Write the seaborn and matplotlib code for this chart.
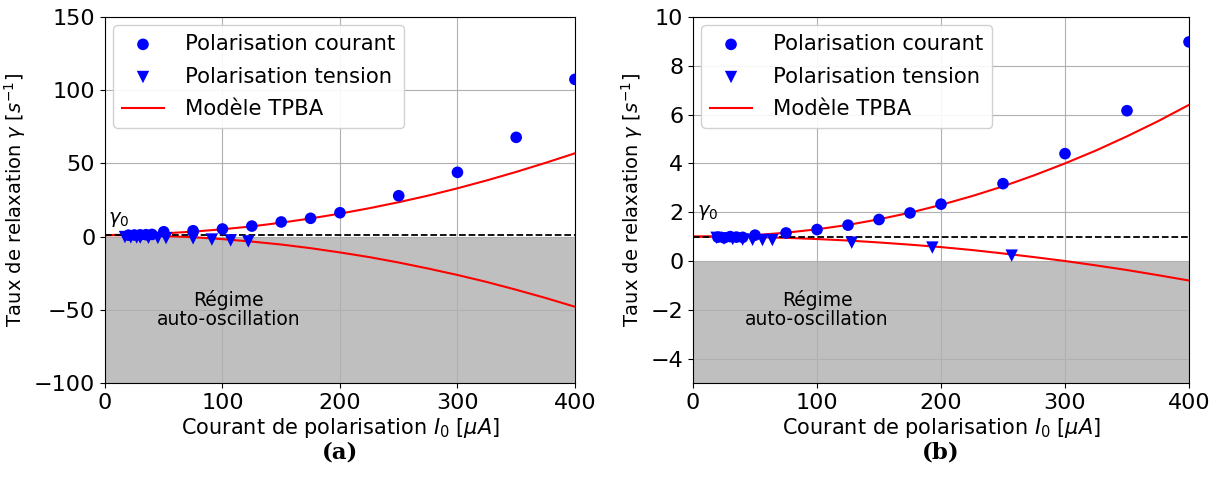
import numpy as np
import pandas as pd
import seaborn as sns
import matplotlib.pyplot as plt

# -----------------------------
# Data
# -----------------------------

gamma0 = 1.0

# (a) left panel
a_cur_x = [20, 25, 30, 35, 40, 50, 75, 100, 125, 150, 175, 200, 250, 300, 350, 400]
a_cur_y = [1.0, 1.1, 1.2, 1.3, 1.5, 3.3, 4.0, 5.2, 7.2, 10.0, 12.5, 16.3, 27.9, 43.9, 67.8, 107.4]
a_ten_x = [17, 22, 27, 30, 37, 45, 52, 75, 91, 107, 122]
a_ten_y = [-0.3, -0.5, -0.6, -0.7, -0.8, -0.9, -1.0, -1.2, -2.0, -2.6, -3.3]

# (b) right panel
b_cur_x = [20, 25, 30, 35, 40, 50, 75, 100, 125, 150, 175, 200, 250, 300, 350, 400]
b_cur_y = [0.98, 0.95, 1.0, 0.98, 0.97, 1.06, 1.15, 1.29, 1.47, 1.70, 1.97, 2.33, 3.17, 4.40, 6.16, 8.98]
b_ten_x = [19, 25, 32, 40, 48, 56, 64, 128, 193, 257]
b_ten_y = [0.95, 0.92, 0.90, 0.88, 0.87, 0.86, 0.86, 0.75, 0.55, 0.22]

# TPBA model curves, read every 25 uA
model_x = [0, 25, 50, 75, 100, 125, 150, 175, 200, 225, 250, 275, 300, 325, 350, 375, 400]
a_model_up = [1.0, 1.4, 2.2, 3.4, 5.0, 7.0, 9.5, 12.4, 15.7, 19.4, 23.5, 28.0, 33.0, 38.4, 44.2, 50.4, 56.9]
a_model_dn = [1.0, 0.9, 0.4, -0.4, -1.7, -3.4, -5.4, -7.9, -10.8, -14.0, -17.7, -21.8, -26.2, -31.0, -36.3, -41.9, -47.9]
b_model_up = [1.00, 1.01, 1.06, 1.16, 1.30, 1.48, 1.71, 1.98, 2.30, 2.66, 3.06, 3.51, 4.00, 4.53, 5.11, 5.73, 6.40]
b_model_dn = [1.00, 1.00, 0.98, 0.95, 0.90, 0.84, 0.76, 0.67, 0.57, 0.45, 0.31, 0.16, 0.00, -0.18, -0.37, -0.58, -0.80]

panels = [
    dict(cur_x=a_cur_x, cur_y=a_cur_y, ten_x=a_ten_x, ten_y=a_ten_y,
         up=a_model_up, dn=a_model_dn, ylim=(-100, 150), yticks=[-100, -50, 0, 50, 100, 150],
         g0_y=12, reg_x=105, reg_y=-50, label="(a)"),
    dict(cur_x=b_cur_x, cur_y=b_cur_y, ten_x=b_ten_x, ten_y=b_ten_y,
         up=b_model_up, dn=b_model_dn, ylim=(-5, 10), yticks=[-4, -2, 0, 2, 4, 6, 8, 10],
         g0_y=2.0, reg_x=100, reg_y=-2.0, label="(b)"),
]

# -----------------------------
# Plot
# -----------------------------

fig = plt.figure(figsize=(12.15, 4.93), dpi=100)
rects = [[0.0864, 0.2231, 0.3868, 0.7424], [0.5704, 0.2231, 0.4082, 0.7424]]

for p, r in zip(panels, rects):
    ax = fig.add_axes(r)
    ax.axhspan(p["ylim"][0], 0, color="#bfbfbf", lw=0, zorder=1)
    ax.grid(True, color="#b0b0b0", lw=0.8)

    sns.scatterplot(x=p["cur_x"], y=p["cur_y"], ax=ax, color="blue", marker="o",
                    s=70, edgecolor="none", label="Polarisation courant", zorder=3)
    sns.scatterplot(x=p["ten_x"], y=p["ten_y"], ax=ax, color="blue", marker="v",
                    s=80, edgecolor="none", label="Polarisation tension", zorder=3)
    sns.lineplot(x=model_x, y=p["up"], ax=ax, color="red", lw=1.5, label="Modèle TPBA", zorder=2)
    sns.lineplot(x=model_x, y=p["dn"], ax=ax, color="red", lw=1.5, zorder=2)
    ax.axhline(gamma0, color="black", ls="--", lw=1.3, zorder=2.5)

    ax.text(12, p["g0_y"], r"$\gamma_0$", fontsize=14, ha="center", va="center")
    ax.text(p["reg_x"], p["reg_y"], "Régime\nauto-oscillation", fontsize=13.5,
            ha="center", va="center", linespacing=1.0)

    ax.set_xlim(0, 400)
    ax.set_ylim(*p["ylim"])
    ax.set_xticks([0, 100, 200, 300, 400])
    ax.set_yticks(p["yticks"])
    ax.tick_params(labelsize=16)
    ax.set_xlabel(r"Courant de polarisation $I_0$ [$\mu A$]", fontsize=15, labelpad=2)
    ax.set_ylabel(r"Taux de relaxation $\gamma$ [$s^{-1}$]", fontsize=14)
    ax.legend(loc="upper left", fontsize=15.2, framealpha=0.9, borderaxespad=0.4,
              handletextpad=1.0, labelspacing=0.6)

    fig.text(r[0] + r[2] / 2, 0.083, p["label"], fontsize=16.5, fontweight="bold",
             family="DejaVu Serif", ha="center", va="center")

fig.savefig("out.png", dpi=100)
